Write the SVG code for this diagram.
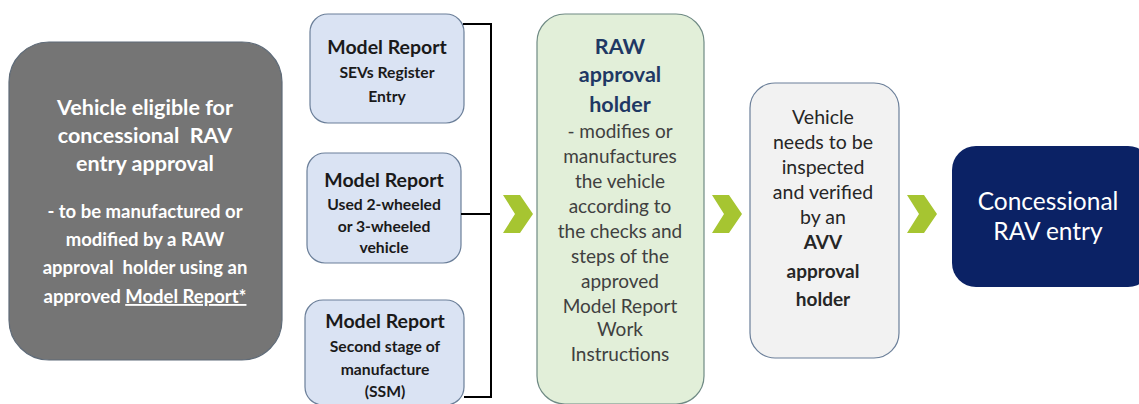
<svg xmlns="http://www.w3.org/2000/svg" width="1139" height="404" viewBox="0 0 1139 404">
<style>
text{font-family:Lato,"Open Sans","Liberation Sans",sans-serif;text-anchor:middle}
.w{fill:#ffffff;font-weight:bold}
.mr{fill:#1a1a1a;font-weight:bold}
.nv{fill:#1f3864;font-weight:bold}
.g{fill:#404040}
.d{fill:#262626}
.chev{fill:#a6c531}
.conn{fill:none;stroke:#000;stroke-width:2}
</style>
<rect width="1139" height="404" fill="#fff"/>
<g id="eligible">
<rect x="9" y="42" width="273" height="318" rx="40" fill="#757575" stroke="#5f6b78" stroke-width="1.2"/>
<text class="w" font-size="21.5" x="145" y="115">Vehicle eligible for</text>
<text class="w" font-size="21.5" x="145" y="143" xml:space="preserve">concessional  RAV</text>
<text class="w" font-size="21.5" x="145" y="171">entry approval</text>
<text class="w" font-size="18.5" x="145" y="218">- to be manufactured or</text>
<text class="w" font-size="18.5" x="145" y="246">modified by a RAW</text>
<text class="w" font-size="18.5" x="145" y="274" xml:space="preserve">approval  holder using an</text>
<text class="w" font-size="18.5" x="145" y="303">approved <tspan text-decoration="underline">Model Report*</tspan></text>
</g>
<g id="mr1">
<rect x="310" y="14" width="154" height="109" rx="18" fill="#dae3f3" stroke="#6b7f99" stroke-width="1.2"/>
<text class="mr" font-size="19.5" x="387" y="54">Model Report</text>
<text class="mr" font-size="15.7" x="387" y="78">SEVs Register</text>
<text class="mr" font-size="15.7" x="387" y="102">Entry</text>
</g>
<g id="mr2">
<rect x="307" y="153" width="154" height="110" rx="18" fill="#dae3f3" stroke="#6b7f99" stroke-width="1.2"/>
<text class="mr" font-size="19.5" x="384" y="187">Model Report</text>
<text class="mr" font-size="15.7" x="384" y="210">Used 2-wheeled</text>
<text class="mr" font-size="15.7" x="384" y="232">or 3-wheeled</text>
<text class="mr" font-size="15.7" x="384" y="253">vehicle</text>
</g>
<g id="mr3">
<rect x="305" y="300" width="159" height="105" rx="18" fill="#dae3f3" stroke="#6b7f99" stroke-width="1.2"/>
<text class="mr" font-size="19.5" x="385" y="328">Model Report</text>
<text class="mr" font-size="15.7" x="385" y="352">Second stage of</text>
<text class="mr" font-size="15.7" x="385" y="375">manufacture</text>
<text class="mr" font-size="15.7" x="385" y="397">(SSM)</text>
</g>
<g id="connectors">
<polyline class="conn" points="463,24 491,24 491,397 464,397"/>
<line class="conn" x1="461" y1="214" x2="491" y2="214"/>
<polygon class="chev" points="503,195 520,195 533,214 520,233 503,233 515,214"/>
<polygon class="chev" points="712,195 729,195 742,214 729,233 712,233 724,214"/>
<polygon class="chev" points="907,195 924,195 937,214 924,233 907,233 919,214"/>
</g>
<g id="raw">
<rect x="537" y="14" width="167" height="390" rx="28" fill="#e2efd9" stroke="#6f8a84" stroke-width="1.2"/>
<text class="nv" font-size="21.5" x="620" y="54">RAW</text>
<text class="nv" font-size="21.5" x="620" y="82">approval</text>
<text class="nv" font-size="21.5" x="620" y="112">holder</text>
<text class="g" font-size="19" x="620" y="138">- modifies or</text>
<text class="g" font-size="19" x="620" y="163">manufactures</text>
<text class="g" font-size="19" x="620" y="188">the vehicle</text>
<text class="g" font-size="19" x="620" y="213">according to</text>
<text class="g" font-size="19" x="620" y="238">the checks and</text>
<text class="g" font-size="19" x="620" y="263">steps of the</text>
<text class="g" font-size="19" x="620" y="288">approved</text>
<text class="g" font-size="19" x="620" y="313">Model Report</text>
<text class="g" font-size="19" x="620" y="336">Work</text>
<text class="g" font-size="19" x="620" y="361">Instructions</text>
</g>
<g id="avv">
<rect x="750" y="83" width="149" height="275" rx="25" fill="#f2f2f2" stroke="#6b7f99" stroke-width="1.2"/>
<text class="d" font-size="19.5" x="823" y="124">Vehicle</text>
<text class="d" font-size="19.5" x="823" y="149">needs to be</text>
<text class="d" font-size="19.5" x="823" y="174">inspected</text>
<text class="d" font-size="19.5" x="823" y="199">and verified</text>
<text class="d" font-size="19.5" x="823" y="224">by an</text>
<text class="d" font-size="19" font-weight="bold" x="823" y="249">AVV</text>
<text class="d" font-size="19" font-weight="bold" x="823" y="278">approval</text>
<text class="d" font-size="19" font-weight="bold" x="823" y="306">holder</text>
</g>
<g id="entry">
<rect x="952" y="146" width="200" height="141" rx="24" fill="#0b2265"/>
<text fill="#fff" font-size="24.5" x="1048" y="210">Concessional</text>
<text fill="#fff" font-size="24.5" x="1048" y="240">RAV entry</text>
</g>
</svg>
